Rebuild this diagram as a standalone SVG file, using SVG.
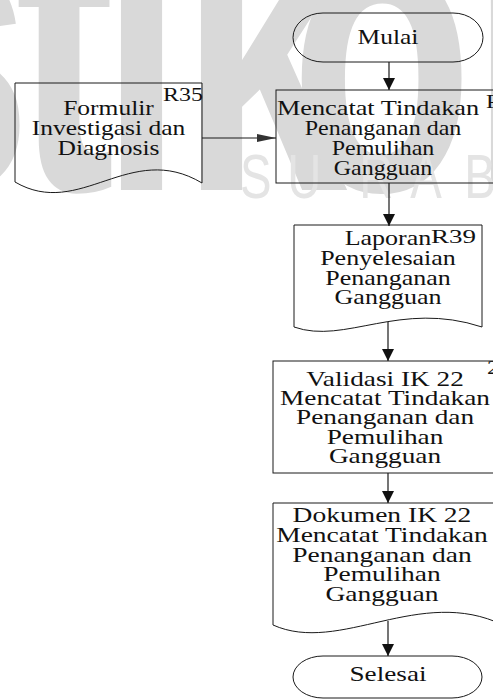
<svg xmlns="http://www.w3.org/2000/svg" width="493" height="699" viewBox="0 0 493 699">
  <style>
    .shape { fill: none; stroke: #1a1a1a; stroke-width: 1; }
    .conn { fill: none; stroke: #1a1a1a; stroke-width: 1.2; }
    .t { font-family: "Liberation Serif", "Times New Roman", serif; font-size: 21px; fill: #111; text-anchor: middle; }
    .ref { font-family: "Liberation Serif", "Times New Roman", serif; font-size: 18px; fill: #111; }
    .wm { font-family: "Liberation Sans", Arial, sans-serif; font-weight: bold; font-size: 300px; fill: #d9d9d9; }
    .wm2 { font-family: "Liberation Sans", Arial, sans-serif; font-size: 63px; fill: #e4e4e4; }
  </style>
  <defs>
    <marker id="arrow" viewBox="0 0 10 10" refX="10" refY="5" markerWidth="12" markerHeight="12" markerUnits="userSpaceOnUse" orient="auto">
      <path d="M0,0 L10,5 L0,10 z" fill="#111"/>
    </marker>
    <marker id="arrowNarrow" viewBox="0 0 19 8" refX="19" refY="4" markerWidth="19" markerHeight="8" markerUnits="userSpaceOnUse" orient="auto">
      <path d="M0,0 L19,4 L0,8 z" fill="#333"/>
    </marker>
  </defs>

  <rect width="493" height="699" fill="#ffffff"/>

  <!-- background logo lettering -->
  <g id="watermark">
    <g transform="scale(1,1.4)">
      <text class="wm" x="-135" y="135.7">s</text>
      <text class="wm" x="15" y="135.7">t</text>
      <text class="wm" x="100" y="135.7">i</text>
      <text class="wm" x="180" y="135.7">k</text>
      <text class="wm" x="290" y="135.7">o</text>
      <text class="wm" x="470" y="135.7">m</text>
    </g>
    <g transform="scale(0.75,1)">
      <text class="wm2" x="320" y="198">S</text>
      <text class="wm2" x="383" y="198">U</text>
      <text class="wm2" x="479" y="198">R</text>
      <text class="wm2" x="547" y="198">A</text>
      <text class="wm2" x="619" y="198">B</text>
    </g>
  </g>

  <!-- connectors -->
  <g id="connectors">
    <line class="conn" x1="389" y1="62" x2="389" y2="90" marker-end="url(#arrow)"/>
    <line class="conn" x1="202" y1="138" x2="276" y2="138" marker-end="url(#arrowNarrow)"/>
    <line class="conn" x1="389" y1="183" x2="389" y2="226" marker-end="url(#arrow)"/>
    <line class="conn" x1="388" y1="322" x2="388" y2="361" marker-end="url(#arrow)"/>
    <line class="conn" x1="388" y1="473" x2="388" y2="503" marker-end="url(#arrow)"/>
    <line class="conn" x1="388" y1="621" x2="388" y2="656" marker-end="url(#arrow)"/>
  </g>

  <!-- start terminator -->
  <g id="mulai">
    <rect class="shape" x="293" y="13" width="190" height="49" rx="30" ry="24.5"/>
    <g transform="translate(388,0) scale(1.214,1)">
      <text class="t" x="0" y="44">Mulai</text>
    </g>
  </g>

  <!-- input document -->
  <g id="formulir">
    <path class="shape" d="M15,182 L15,83 L202,83 L202,183 C130,140 80,220 15,182 Z"/>
    <g transform="translate(108.5,0) scale(1.214,1)">
      <text class="t" x="0" y="115">Formulir</text>
      <text class="t" x="0" y="135">Investigasi dan</text>
      <text class="t" x="0" y="155">Diagnosis</text>
    </g>
    <g transform="translate(203,0) scale(1.333,1)">
      <text class="ref" x="0" y="101" text-anchor="end">R35</text>
    </g>
  </g>

  <!-- recording process -->
  <g id="mencatat">
    <rect class="shape" x="276" y="90" width="226" height="93"/>
    <g transform="translate(378,0) scale(1.252,1)">
      <text class="t" x="0" y="115">Mencatat Tindakan</text>
    </g>
    <g transform="translate(383,0) scale(1.143,1)">
      <text class="t" x="0" y="135">Penanganan dan</text>
      <text class="t" x="0" y="155">Pemulihan</text>
      <text class="t" x="0" y="175">Gangguan</text>
    </g>
    <g transform="translate(486,0) scale(1.333,1)">
      <text class="ref" x="0" y="108">R36</text>
    </g>
  </g>

  <!-- report document -->
  <g id="laporan">
    <path class="shape" d="M294,327 L294,225 L482,225 L482,327 C400,300 345,345 294,327 Z"/>
    <g transform="translate(388,0) scale(1.238,1)">
      <text class="t" x="0" y="245">Laporan</text>
      <text class="t" x="0" y="265">Penyelesaian</text>
      <text class="t" x="0" y="285">Penanganan</text>
      <text class="t" x="0" y="304">Gangguan</text>
    </g>
    <g transform="translate(431,0) scale(1.5,1)">
      <text class="ref" x="0" y="243">R39</text>
    </g>
  </g>

  <!-- validation process -->
  <g id="validasi">
    <rect class="shape" x="273" y="361" width="230" height="112"/>
    <g transform="translate(385,0) scale(1.3,1)">
      <text class="t" x="0" y="386">Validasi IK 22</text>
      <text class="t" x="0" y="405">Mencatat Tindakan</text>
      <text class="t" x="0" y="424">Penanganan dan</text>
      <text class="t" x="0" y="444">Pemulihan</text>
      <text class="t" x="0" y="463">Gangguan</text>
    </g>
    <g transform="translate(487,0) scale(1.333,1)">
      <text class="ref" x="0" y="374">2</text>
    </g>
  </g>

  <!-- output document -->
  <g id="dokumen">
    <path class="shape" d="M273,625 L273,503 L503,503 L503,625 C420,585 340,655 273,625 Z"/>
    <g transform="translate(382,0) scale(1.31,1)">
      <text class="t" x="0" y="522">Dokumen IK 22</text>
      <text class="t" x="0" y="542">Mencatat Tindakan</text>
      <text class="t" x="0" y="562">Penanganan dan</text>
      <text class="t" x="0" y="581">Pemulihan</text>
      <text class="t" x="0" y="601">Gangguan</text>
    </g>
  </g>

  <!-- end terminator -->
  <g id="selesai">
    <rect class="shape" x="293" y="656" width="189" height="42" rx="30" ry="21"/>
    <g transform="translate(388,0) scale(1.295,1)">
      <text class="t" x="0" y="681">Selesai</text>
    </g>
  </g>
</svg>
